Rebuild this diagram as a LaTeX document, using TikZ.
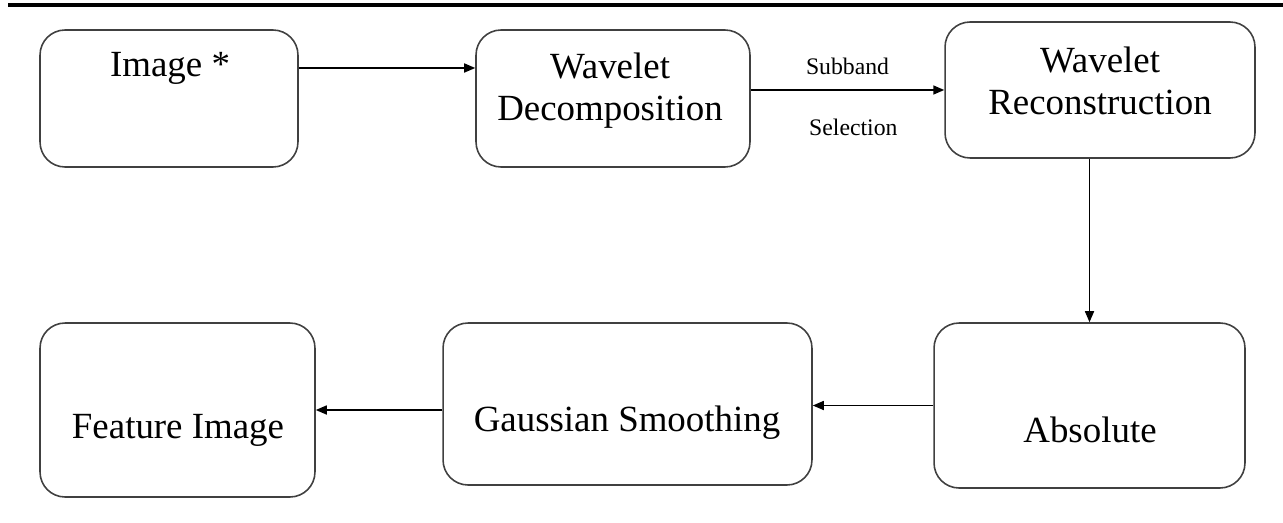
\documentclass[tikz,border=0pt]{standalone}
\usepackage{fontspec}
\setmainfont{Liberation Serif}
\usetikzlibrary{arrows.meta}
\tikzset{
  stage/.style={draw=black!75, line width=0.9pt, rounded corners=0.5cm, inner sep=0pt},
  flow/.style={-{Triangle[length=0.22cm,width=0.18cm]}, line width=0.9pt},
  lbl/.style={font=\fontsize{21}{24}\selectfont, align=center},
  tag/.style={font=\fontsize{13.5}{15}\selectfont}
}
\begin{document}
\begin{tikzpicture}[x=0.02cm, y=-0.02cm]
\useasboundingbox (0,0) rectangle (1283,523);
\draw[line width=1.8pt] (8,5) -- (1283,5);
% boxes
\node[stage, minimum width=5.16cm, minimum height=2.74cm] (img) at (169,98.5) {};
\node[stage, minimum width=5.48cm, minimum height=2.74cm] (dec) at (613,98.5) {};
\node[stage, minimum width=6.2cm, minimum height=2.72cm] (rec) at (1100,90) {};
\node[stage, minimum width=6.22cm, minimum height=3.3cm] (abs) at (1089.5,405.5) {};
\node[stage, minimum width=7.38cm, minimum height=3.24cm] (gau) at (627.5,404) {};
\node[stage, minimum width=5.5cm, minimum height=3.48cm] (feat) at (177.5,410) {};
% texts
\node[lbl] (imgt) at (170,68) {Image *};
\node[lbl] (dect) at (610,91) {Wavelet\\Decomposition};
\node[lbl] (rect) at (1100,81) {Wavelet\\Reconstruction};
\node[lbl] (abst) at (1090,430) {Absolute};
\node[lbl] (gaut) at (627,423) {Gaussian Smoothing};
\node[lbl] (featt) at (178,430) {Feature Image};
% connectors
\draw[flow] (imgt -| img.east) -- (imgt -| dec.west);
\draw[flow] (dec.east |- rec.west) -- (rec.west)
  node[tag, pos=0.5, above=5pt] (sub) {Subband}
  node[tag, pos=0.53, below=13pt] (sel) {Selection};
\draw[flow] (rec.south -| abs.north) -- (abs.north);
\draw[flow] (abs.west) -- (abs.west -| gau.east);
\draw[flow] (gau.west |- feat.east) -- (feat.east);
\end{tikzpicture}
\end{document}
